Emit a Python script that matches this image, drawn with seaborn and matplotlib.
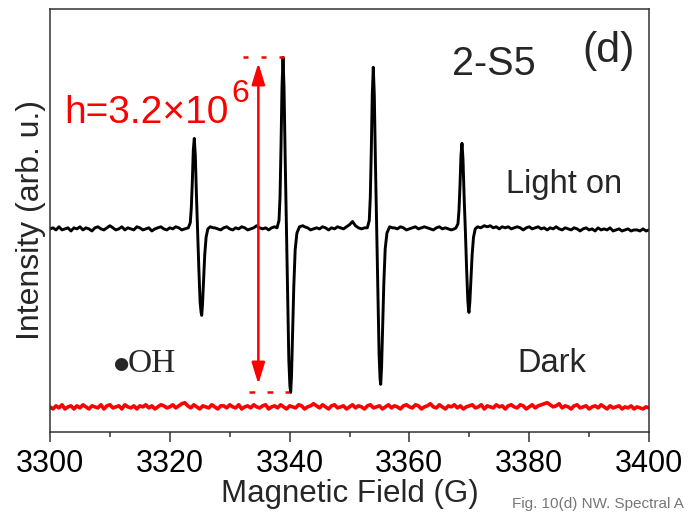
import numpy as np
import pandas as pd
import matplotlib
matplotlib.use("Agg")
import matplotlib.pyplot as plt
import seaborn as sns

# ---------------- data ----------------
# Light-on spectrum (DMPO-OH quartet), signal relative to its own baseline
light_base1_field = [3300.0, 3300.5, 3301.0, 3301.5, 3302.0, 3302.5, 3303.0, 3303.5, 3304.0, 3304.5,
                     3305.0, 3305.5, 3306.0, 3306.5, 3307.0, 3307.5, 3308.0, 3308.5, 3309.0, 3309.5,
                     3310.0, 3310.5, 3311.0, 3311.5, 3312.0, 3312.5, 3313.0, 3313.5, 3314.0, 3314.5,
                     3315.0, 3315.5, 3316.0, 3316.5, 3317.0, 3317.5, 3318.0, 3318.5, 3319.0, 3319.5,
                     3320.0, 3320.5, 3321.0, 3321.5, 3322.0, 3322.5]
light_base1_signal = [0.00, 0.01, -0.01, 0.02, -0.01, 0.00, 0.01, -0.02, 0.01, 0.00,
                      0.02, -0.01, 0.01, 0.00, -0.02, 0.01, 0.02, 0.00, -0.01, 0.01,
                      0.03, 0.01, -0.01, 0.00, 0.02, -0.01, 0.01, 0.00, -0.01, 0.02,
                      0.01, -0.01, 0.00, 0.01, -0.02, 0.00, 0.01, 0.02, 0.00, -0.01,
                      0.01, 0.00, 0.02, 0.01, -0.01, 0.00]

peak1_field = [3323.09, 3323.42, 3323.59, 3323.76, 3323.92, 3324.09, 3324.26, 3324.46, 3324.66, 3324.86,
               3325.06, 3325.23, 3325.33, 3325.46, 3325.63, 3325.83, 3326.06, 3326.35, 3326.76, 3327.26]
peak1_signal = [0.01, 0.06, 0.20, 0.45, 0.75, 0.864, 0.70, 0.30, -0.05, -0.40,
                -0.70, -0.80, -0.826, -0.72, -0.50, -0.25, -0.08, 0.00, 0.02, 0.01]

light_base2_field = [3327.5, 3328.0, 3328.5, 3329.0, 3329.5, 3330.0, 3330.5, 3331.0, 3331.5, 3332.0,
                     3332.5, 3333.0, 3333.5, 3334.0, 3334.5, 3335.0, 3335.5, 3336.0, 3336.5, 3337.0,
                     3337.5]
light_base2_signal = [0.01, 0.00, -0.01, 0.01, 0.02, 0.00, -0.01, 0.01, 0.00, 0.02,
                      0.01, -0.01, 0.00, 0.01, 0.03, 0.01, 0.00, 0.01, -0.01, 0.01,
                      0.02]

peak2_field = [3337.90, 3338.23, 3338.40, 3338.57, 3338.73, 3338.90, 3339.07, 3339.27, 3339.47, 3339.67,
               3339.87, 3340.05, 3340.18, 3340.32, 3340.50, 3340.70, 3340.93, 3341.22, 3341.65, 3342.20]
peak2_signal = [0.01, 0.08, 0.30, 0.80, 1.35, 1.638, 1.35, 0.65, 0.02, -0.65,
                -1.25, -1.50, -1.562, -1.40, -1.00, -0.55, -0.20, -0.04, 0.02, 0.03]

light_base3_field = [3342.5, 3343.0, 3343.5, 3344.0, 3344.5, 3345.0, 3345.5, 3346.0, 3346.5, 3347.0,
                     3347.5, 3348.0, 3348.5, 3349.0, 3349.5, 3350.0, 3350.5, 3351.0, 3351.5, 3352.0,
                     3352.5]
light_base3_signal = [0.02, 0.01, -0.01, 0.00, 0.01, 0.00, 0.02, 0.01, -0.01, 0.01,
                      0.00, 0.02, 0.01, 0.00, 0.02, 0.04, 0.07, 0.03, 0.01, 0.00,
                      0.01]

peak3_field = [3352.97, 3353.30, 3353.47, 3353.64, 3353.80, 3353.97, 3354.14, 3354.34, 3354.54, 3354.74,
               3354.94, 3355.10, 3355.21, 3355.35, 3355.53, 3355.73, 3355.96, 3356.25, 3356.70, 3357.20]
peak3_signal = [0.01, 0.08, 0.30, 0.75, 1.28, 1.543, 1.28, 0.60, 0.00, -0.62,
                -1.20, -1.43, -1.485, -1.33, -0.95, -0.52, -0.19, -0.04, 0.02, 0.01]

light_base4_field = [3357.5, 3358.0, 3358.5, 3359.0, 3359.5, 3360.0, 3360.5, 3361.0, 3361.5, 3362.0,
                     3362.5, 3363.0, 3363.5, 3364.0, 3364.5, 3365.0, 3365.5, 3366.0, 3366.5, 3367.0,
                     3367.5]
light_base4_signal = [0.01, 0.00, 0.02, 0.01, -0.01, 0.00, 0.01, 0.02, 0.00, 0.01,
                      0.02, 0.01, 0.00, -0.01, 0.01, 0.02, 0.00, 0.01, 0.00, -0.01,
                      0.00]

peak4_field = [3367.78, 3368.11, 3368.28, 3368.45, 3368.61, 3368.78, 3368.95, 3369.15, 3369.35, 3369.55,
               3369.75, 3369.88, 3369.95, 3370.09, 3370.27, 3370.47, 3370.70, 3370.99, 3371.40, 3371.90]
peak4_signal = [0.01, 0.05, 0.18, 0.42, 0.70, 0.817, 0.66, 0.28, -0.03, -0.38,
                -0.68, -0.78, -0.798, -0.70, -0.49, -0.25, -0.08, 0.00, 0.02, 0.01]

light_base5_field = [3372.5, 3373.0, 3373.5, 3374.0, 3374.5, 3375.0, 3375.5, 3376.0, 3376.5, 3377.0,
                     3377.5, 3378.0, 3378.5, 3379.0, 3379.5, 3380.0, 3380.5, 3381.0, 3381.5, 3382.0,
                     3382.5, 3383.0, 3383.5, 3384.0, 3384.5, 3385.0, 3385.5, 3386.0, 3386.5, 3387.0,
                     3387.5, 3388.0, 3388.5, 3389.0, 3389.5, 3390.0, 3390.5, 3391.0, 3391.5, 3392.0,
                     3392.5, 3393.0, 3393.5, 3394.0, 3394.5, 3395.0, 3395.5, 3396.0, 3396.5, 3397.0,
                     3397.5, 3398.0, 3398.5, 3399.0, 3399.5, 3400.0]
light_base5_signal = [0.03, 0.02, 0.03, 0.01, 0.02, 0.00, 0.02, 0.01, 0.02, 0.00,
                      0.01, 0.02, 0.01, -0.01, 0.01, 0.02, 0.00, 0.01, 0.02, 0.00,
                      0.01, -0.01, 0.01, 0.00, 0.02, 0.00, -0.01, 0.01, 0.00, -0.01,
                      0.01, 0.00, -0.02, 0.00, 0.01, -0.01, 0.00, -0.02, 0.01, -0.01,
                      0.00, -0.01, 0.01, -0.02, -0.01, 0.00, -0.02, -0.01, 0.00, -0.02,
                      -0.01, -0.01, -0.02, 0.00, -0.02, -0.01]

# vertical stacking offset of the light-on trace above the dark trace (x10^6)
light_offset = 1.70

# Dark spectrum
dark_field = [3300.0, 3300.5, 3301.0, 3301.5, 3302.0, 3302.5, 3303.0, 3303.5, 3304.0, 3304.5,
              3305.0, 3305.5, 3306.0, 3306.5, 3307.0, 3307.5, 3308.0, 3308.5, 3309.0, 3309.5,
              3310.0, 3310.5, 3311.0, 3311.5, 3312.0, 3312.5, 3313.0, 3313.5, 3314.0, 3314.5,
              3315.0, 3315.5, 3316.0, 3316.5, 3317.0, 3317.5, 3318.0, 3318.5, 3319.0, 3319.5,
              3320.0, 3320.5, 3321.0, 3321.5, 3322.0, 3322.5, 3323.0, 3323.5, 3324.0, 3324.5,
              3325.0, 3325.5, 3326.0, 3326.5, 3327.0, 3327.5, 3328.0, 3328.5, 3329.0, 3329.5,
              3330.0, 3330.5, 3331.0, 3331.5, 3332.0, 3332.5, 3333.0, 3333.5, 3334.0, 3334.5,
              3335.0, 3335.5, 3336.0, 3336.5, 3337.0, 3337.5, 3338.0, 3338.5, 3339.0, 3339.5,
              3340.0, 3340.5, 3341.0, 3341.5, 3342.0, 3342.5, 3343.0, 3343.5, 3344.0, 3344.5,
              3345.0, 3345.5, 3346.0, 3346.5, 3347.0, 3347.5, 3348.0, 3348.5, 3349.0, 3349.5,
              3350.0, 3350.5, 3351.0, 3351.5, 3352.0, 3352.5, 3353.0, 3353.5, 3354.0, 3354.5,
              3355.0, 3355.5, 3356.0, 3356.5, 3357.0, 3357.5, 3358.0, 3358.5, 3359.0, 3359.5,
              3360.0, 3360.5, 3361.0, 3361.5, 3362.0, 3362.5, 3363.0, 3363.5, 3364.0, 3364.5,
              3365.0, 3365.5, 3366.0, 3366.5, 3367.0, 3367.5, 3368.0, 3368.5, 3369.0, 3369.5,
              3370.0, 3370.5, 3371.0, 3371.5, 3372.0, 3372.5, 3373.0, 3373.5, 3374.0, 3374.5,
              3375.0, 3375.5, 3376.0, 3376.5, 3377.0, 3377.5, 3378.0, 3378.5, 3379.0, 3379.5,
              3380.0, 3380.5, 3381.0, 3381.5, 3382.0, 3382.5, 3383.0, 3383.5, 3384.0, 3384.5,
              3385.0, 3385.5, 3386.0, 3386.5, 3387.0, 3387.5, 3388.0, 3388.5, 3389.0, 3389.5,
              3390.0, 3390.5, 3391.0, 3391.5, 3392.0, 3392.5, 3393.0, 3393.5, 3394.0, 3394.5,
              3395.0, 3395.5, 3396.0, 3396.5, 3397.0, 3397.5, 3398.0, 3398.5, 3399.0, 3399.5,
              3400.0]
dark_signal = [0.00, -0.02, 0.01, -0.01, 0.02, -0.02, 0.00, 0.01, -0.02, 0.01,
               -0.01, 0.02, 0.00, -0.02, 0.01, 0.00, -0.01, 0.02, -0.02, 0.01,
               0.02, -0.01, 0.00, 0.01, -0.02, 0.02, 0.00, -0.01, 0.01, -0.02,
               0.01, 0.00, 0.02, -0.01, 0.01, -0.02, 0.00, 0.02, 0.01, -0.01,
               0.00, 0.02, -0.01, 0.01, 0.03, 0.04, 0.01, -0.01, 0.02, 0.00,
               -0.02, 0.01, 0.00, -0.01, 0.02, 0.00, -0.02, 0.01, 0.01, -0.01,
               0.02, 0.00, -0.01, 0.02, -0.02, 0.00, 0.01, -0.01, 0.02, 0.00,
               -0.01, 0.01, 0.02, -0.02, 0.00, 0.01, -0.01, 0.02, 0.00, -0.02,
               0.01, 0.00, -0.01, 0.02, 0.01, -0.02, 0.00, 0.01, 0.03, 0.01,
               -0.01, 0.02, 0.00, -0.02, 0.01, 0.02, -0.01, 0.00, 0.01, -0.02,
               0.00, 0.02, -0.01, 0.01, 0.00, -0.02, 0.01, 0.02, -0.01, 0.00,
               0.01, -0.02, 0.00, 0.02, -0.01, 0.01, 0.00, -0.02, 0.01, 0.02,
               0.00, -0.01, 0.02, 0.01, -0.02, 0.00, 0.01, 0.03, 0.00, -0.01,
               0.02, 0.00, -0.02, 0.01, 0.00, 0.02, -0.01, 0.01, -0.02, 0.00,
               0.01, 0.02, -0.01, 0.00, 0.02, -0.02, 0.01, 0.00, -0.01, 0.02,
               0.00, 0.01, -0.02, 0.01, 0.02, 0.00, -0.01, 0.02, 0.01, -0.02,
               0.00, 0.02, -0.01, 0.01, 0.02, 0.03, 0.04, 0.02, 0.00, 0.01,
               0.03, -0.01, 0.01, 0.00, -0.02, 0.01, 0.02, -0.01, 0.00, 0.01,
               -0.02, 0.00, 0.01, -0.01, 0.02, 0.00, -0.02, 0.01, -0.01, 0.00,
               0.01, -0.02, 0.00, -0.01, 0.01, -0.02, 0.00, -0.01, -0.02, 0.00,
               -0.01]

# peak-to-peak height of the strongest line, in units of 10^6
h_value = 3.2
x_ticks = [3300, 3320, 3340, 3360, 3380, 3400]
x_minor = [3310, 3330, 3350, 3370, 3390]

# ---------------- style ----------------
sns.set_style("ticks")
plt.rcParams["font.family"] = ["Liberation Sans", "DejaVu Sans"]
spine_color = "#333333"

light_df = pd.DataFrame({
    "field": (light_base1_field + peak1_field + light_base2_field + peak2_field + light_base3_field
              + peak3_field + light_base4_field + peak4_field + light_base5_field),
    "signal": (light_base1_signal + peak1_signal + light_base2_signal + peak2_signal + light_base3_signal
               + peak3_signal + light_base4_signal + peak4_signal + light_base5_signal),
})
light_df["intensity"] = light_df["signal"] + light_offset
dark_df = pd.DataFrame({"field": dark_field, "intensity": dark_signal})

fig = plt.figure(figsize=(6.89, 5.12), dpi=100)
ax = fig.add_axes([50 / 689, 1 - 432 / 512, 599 / 689, 423 / 512])

sns.lineplot(data=dark_df, x="field", y="intensity", color="#ff0000", lw=2.6,
             estimator=None, sort=False, ax=ax)
sns.lineplot(data=light_df, x="field", y="intensity", color="black", lw=2.1,
             estimator=None, sort=False, ax=ax)

ax.set_xlim(3300, 3400)
ax.set_ylim(-0.24, 3.80)
ax.set_xticks(x_ticks)
ax.set_xticks(x_minor, minor=True)
ax.set_yticks([])
ax.tick_params(axis="x", which="major", direction="out", length=7, width=1.1,
               color=spine_color, labelsize=22, pad=5, labelcolor="black")
ax.tick_params(axis="x", which="minor", direction="out", length=3.6, width=1.1,
               color=spine_color)
for side in ["left", "right", "top", "bottom"]:
    ax.spines[side].set_visible(True)
    ax.spines[side].set_color(spine_color)
    ax.spines[side].set_linewidth(1.1)

ax.set_xlabel("Magnetic Field (G)", fontsize=22.5, labelpad=0)
ax.set_ylabel("Intensity (arb. u.)", fontsize=23, labelpad=3)

# peak-to-peak marker of the strongest line
p2_top = light_offset + max(peak2_signal)
p2_bottom = p2_top - h_value
arrow_x = 3334.78
ax.plot([3332.2, 3339.6], [p2_top, p2_top], color="red", lw=1.8, ls=(0, (2.0, 5.2)))
ax.plot([3333.3, 3339.9], [p2_bottom, p2_bottom], color="red", lw=1.8, ls=(0, (2.3, 4.9)))
ax.annotate("", xy=(arrow_x, p2_bottom), xytext=(arrow_x, p2_top),
            arrowprops=dict(arrowstyle="<|-|>,head_length=0.65,head_width=0.2",
                            mutation_scale=20, color="red", lw=1.8,
                            shrinkA=4, shrinkB=6))

ax.text(0.0234, 0.7305, "h=3.2\u00d710", transform=ax.transAxes, color="red",
        fontsize=28, ha="left", va="baseline")
ax.text(0.302, 0.780, "6", transform=ax.transAxes, color="red",
        fontsize=23, ha="left", va="baseline")

ax.text(0.741, 0.844, "2-S5", transform=ax.transAxes, fontsize=28.5,
        ha="center", va="baseline")
ax.text(0.933, 0.875, "(d)", transform=ax.transAxes, fontsize=31,
        ha="center", va="baseline")
ax.text(0.858, 0.565, "Light on", transform=ax.transAxes, fontsize=23.5,
        ha="center", va="baseline")
ax.text(0.838, 0.142, "Dark", transform=ax.transAxes, fontsize=23.5,
        ha="center", va="baseline")
# radical label: filled dot followed by OH in a serif face
ax.text(0.1185, 0.1655, "\u25cf", transform=ax.transAxes, fontsize=12.5,
        family=["DejaVu Sans"], ha="center", va="center_baseline")
ax.text(0.130, 0.142, "OH", transform=ax.transAxes, fontsize=24,
        family=["Liberation Serif", "DejaVu Serif"], ha="left", va="baseline")

fig.text(512 / 689, 1 / 512, "Fig. 10(d) NW. Spectral A", color="#777777",
         fontsize=11, ha="left", va="bottom")

fig.savefig("out.png", dpi=100)
